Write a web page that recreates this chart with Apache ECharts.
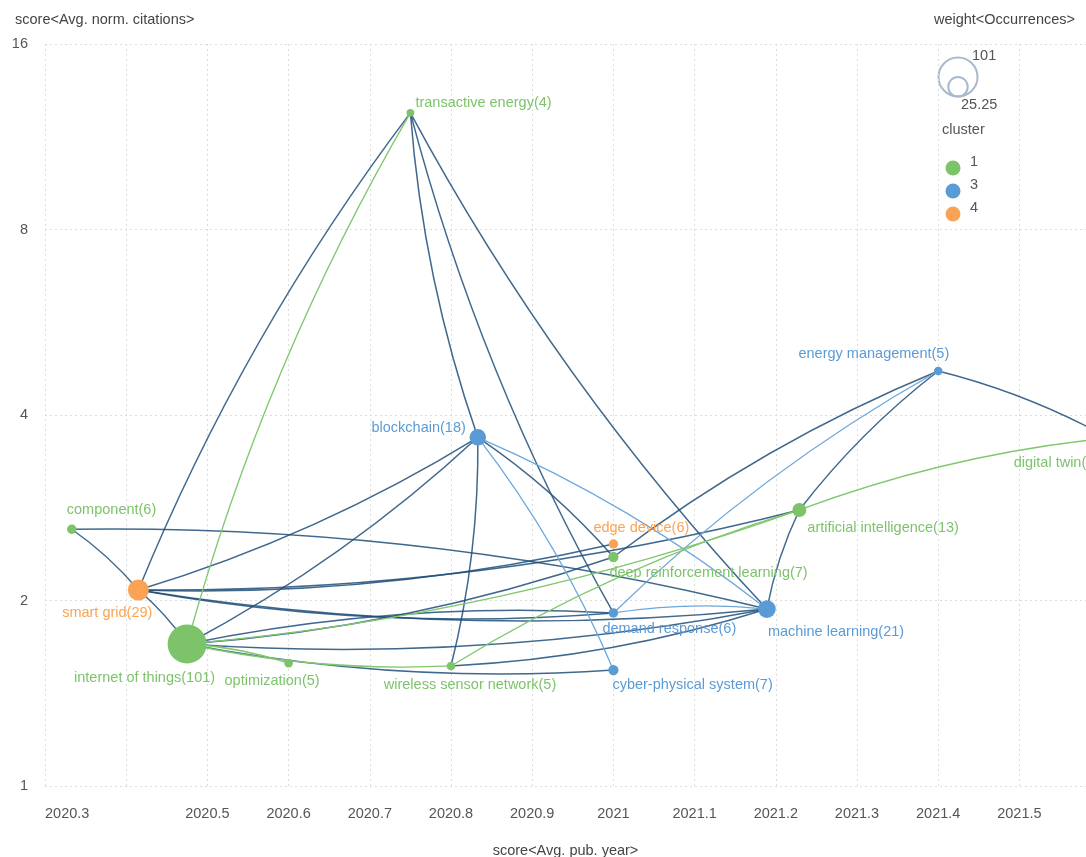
<!DOCTYPE html>
<html>
<head>
<meta charset="utf-8">
<script src="https://cdn.jsdelivr.net/npm/echarts@6/dist/echarts.min.js"></script>
<style>
  html, body { margin: 0; padding: 0; background: #fff; overflow: hidden; }
  #chart { width: 1086px; height: 857px; }
</style>
</head>
<body>
<div id="chart"></div>
<script>
// keywords (VOSviewer overlay map)
var names = ['transactive energy', 'blockchain', 'component', 'smart grid', 'internet of things',
  'optimization', 'wireless sensor network', 'edge device', 'deep reinforcement learning',
  'demand response', 'cyber-physical system', 'machine learning', 'artificial intelligence',
  'energy management', 'digital twin'];
var weights = [4, 18, 6, 29, 101, 5, 5, 6, 7, 6, 7, 21, 13, 5, 5];
var pubYear = [2020.75, 2020.833, 2020.333, 2020.415, 2020.475, 2020.6, 2020.8, 2021.0, 2021.0,
  2021.0, 2021.0, 2021.189, 2021.229, 2021.4, 2021.61];
var citations = [12.37, 3.68, 2.61, 2.08, 1.70, 1.583, 1.566, 2.47, 2.353, 1.909, 1.542, 1.937,
  2.805, 4.715, 3.67];
var clusters = ['1', '3', '1', '4', '1', '1', '1', '4', '1', '3', '3', '3', '1', '3', '1'];
var categories = ['1', '3', '4'];

// links: [source, target, kind]
var links = [
  ['smart grid', 'transactive energy', 'dark'],
  ['blockchain', 'transactive energy', 'dark'],
  ['demand response', 'transactive energy', 'dark'],
  ['machine learning', 'transactive energy', 'dark'],
  ['blockchain', 'smart grid', 'dark'],
  ['blockchain', 'internet of things', 'dark'],
  ['blockchain', 'wireless sensor network', 'dark'],
  ['blockchain', 'deep reinforcement learning', 'dark'],
  ['component', 'machine learning', 'dark'],
  ['component', 'smart grid', 'dark'],
  ['smart grid', 'internet of things', 'dark'],
  ['machine learning', 'smart grid', 'dark'],
  ['artificial intelligence', 'smart grid', 'dark'],
  ['edge device', 'smart grid', 'dark'],
  ['demand response', 'smart grid', 'dark'],
  ['machine learning', 'internet of things', 'dark'],
  ['internet of things', 'demand response', 'dark'],
  ['cyber-physical system', 'internet of things', 'dark'],
  ['machine learning', 'wireless sensor network', 'dark'],
  ['deep reinforcement learning', 'internet of things', 'dark'],
  ['artificial intelligence', 'energy management', 'dark'],
  ['energy management', 'digital twin', 'dark'],
  ['machine learning', 'artificial intelligence', 'dark'],
  ['deep reinforcement learning', 'energy management', 'dark'],
  ['blockchain', 'cyber-physical system', 'light'],
  ['blockchain', 'machine learning', 'light'],
  ['demand response', 'machine learning', 'light'],
  ['demand response', 'energy management', 'light'],
  ['internet of things', 'transactive energy', 'green'],
  ['artificial intelligence', 'internet of things', 'green'],
  ['wireless sensor network', 'artificial intelligence', 'green'],
  ['wireless sensor network', 'internet of things', 'green'],
  ['internet of things', 'optimization', 'green'],
  ['artificial intelligence', 'digital twin', 'green']
];

var xTickLabels = ['2020.3', '2020.5', '2020.6', '2020.7', '2020.8', '2020.9', '2021', '2021.1',
  '2021.2', '2021.3', '2021.4', '2021.5'];
var sizeLegendValues = [101, 25.25];

// label placement: [align, dx, dy] from node centre
var labelPlace = {
  'transactive energy': ['left', 5, -10],
  'blockchain': ['right', -12, -9],
  'component': ['left', -5, -19],
  'smart grid': ['right', 14, 23],
  'internet of things': ['right', 28, 34],
  'optimization': ['right', 31, 18],
  'wireless sensor network': ['center', 19, 19],
  'edge device': ['left', -20, -16],
  'deep reinforcement learning': ['left', -4, 16],
  'demand response': ['left', -11, 16],
  'cyber-physical system': ['left', -1, 15],
  'machine learning': ['left', 1, 23],
  'artificial intelligence': ['left', 8, 18],
  'energy management': ['right', 11, -17],
  'digital twin': ['left', -95, 25]
};

var clusterColors = { '1': '#7cc36a', '3': '#5b9bd5', '4': '#fba354' };
var edgeColors = { dark: 'rgba(31,78,121,0.85)', light: '#6ca7dc', green: '#80c76e' };
var FONT = 'Liberation Sans, Arial, sans-serif';

function nodeSize(w) {
  return 39 * Math.sqrt(w / 101);
}

var nodes = names.map(function (n, i) {
  var p = labelPlace[n];
  var c = clusterColors[clusters[i]];
  return {
    name: n,
    value: [pubYear[i], citations[i]],
    category: categories.indexOf(clusters[i]),
    symbolSize: nodeSize(weights[i]),
    itemStyle: { color: c },
    label: {
      show: true,
      formatter: n + '(' + weights[i] + ')',
      position: ['50%', '50%'],
      offset: [p[1], p[2]],
      align: p[0],
      verticalAlign: 'middle',
      color: c,
      fontSize: 14.5,
      fontFamily: FONT
    }
  };
});

var edges = links.map(function (l) {
  return {
    source: l[0],
    target: l[1],
    lineStyle: { color: edgeColors[l[2]], width: l[2] === 'dark' ? 1.5 : 1.3, opacity: 1 }
  };
});

// legend graphics (size + cluster)
var graphics = [];
sizeLegendValues.forEach(function (v) {
  var r = nodeSize(v) / 2;
  graphics.push({
    type: 'circle',
    shape: { cx: 958, cy: 96.5 - r, r: r },
    style: { fill: 'none', stroke: '#a9b9cc', lineWidth: 2 }
  });
});
graphics.push({ type: 'text', left: 972, top: 48, style: { text: String(sizeLegendValues[0]), fill: '#555', font: '14.5px ' + FONT } });
graphics.push({ type: 'text', left: 961, top: 97, style: { text: String(sizeLegendValues[1]), fill: '#555', font: '14.5px ' + FONT } });
graphics.push({ type: 'text', left: 942, top: 122, style: { text: 'cluster', fill: '#555', font: '14.5px ' + FONT } });
categories.forEach(function (c, i) {
  graphics.push({
    type: 'circle',
    shape: { cx: 953, cy: 168 + 23 * i, r: 7.5 },
    style: { fill: clusterColors[c] }
  });
  graphics.push({
    type: 'text', left: 970, top: 154 + 23 * i,
    style: { text: c, fill: '#555', font: '14.5px ' + FONT }
  });
});

var chart = echarts.init(document.getElementById('chart'), null, { width: 1086, height: 857 });
var option = {
  animation: false,
  backgroundColor: '#fff',
  title: [
    { text: 'score<Avg. norm. citations>', left: 10, top: 7,
      textStyle: { fontSize: 14.5, fontWeight: 'normal', color: '#444', fontFamily: FONT } },
    { text: 'weight<Occurrences>', right: 6, top: 7,
      textStyle: { fontSize: 14.5, fontWeight: 'normal', color: '#444', fontFamily: FONT } }
  ],
  grid: { left: 45, right: 0, top: 44, bottom: 71, containLabel: false, outerBoundsMode: 'none' },
  xAxis: {
    type: 'value',
    min: 2020.3,
    max: 2021.582,
    interval: 0.1,
    name: 'score<Avg. pub. year>',
    nameLocation: 'middle',
    nameGap: 57,
    nameTextStyle: { fontSize: 14.5, color: '#444', fontFamily: FONT },
    axisLine: { show: false },
    axisTick: { show: false },
    axisLabel: {
      margin: 20,
      fontSize: 14.5,
      color: '#555',
      fontFamily: FONT,
      alignMinLabel: 'left',
      showMaxLabel: false,
      formatter: function (v) {
        var s = String(Math.round(v * 10) / 10);
        return xTickLabels.indexOf(s) >= 0 ? s : '';
      }
    },
    splitLine: { show: true, lineStyle: { color: '#dcdcdc', type: [2, 3] } }
  },
  yAxis: {
    type: 'log',
    logBase: 2,
    min: 1,
    max: 16,
    axisLine: { show: false },
    axisTick: { show: false },
    axisLabel: { margin: 17, fontSize: 14.5, color: '#555', fontFamily: FONT },
    splitLine: { show: true, lineStyle: { color: '#dcdcdc', type: [2, 3] } }
  },
  graphic: graphics,
  series: [{
    type: 'graph',
    coordinateSystem: 'cartesian2d',
    layout: 'none',
    categories: categories.map(function (c) { return { name: c }; }),
    data: nodes,
    links: edges,
    lineStyle: { curveness: 0.065 },
    emphasis: { disabled: true }
  }]
};
chart.setOption(option);
window.addEventListener('resize', function () {
  chart.resize();
});
</script>
</body>
</html>
